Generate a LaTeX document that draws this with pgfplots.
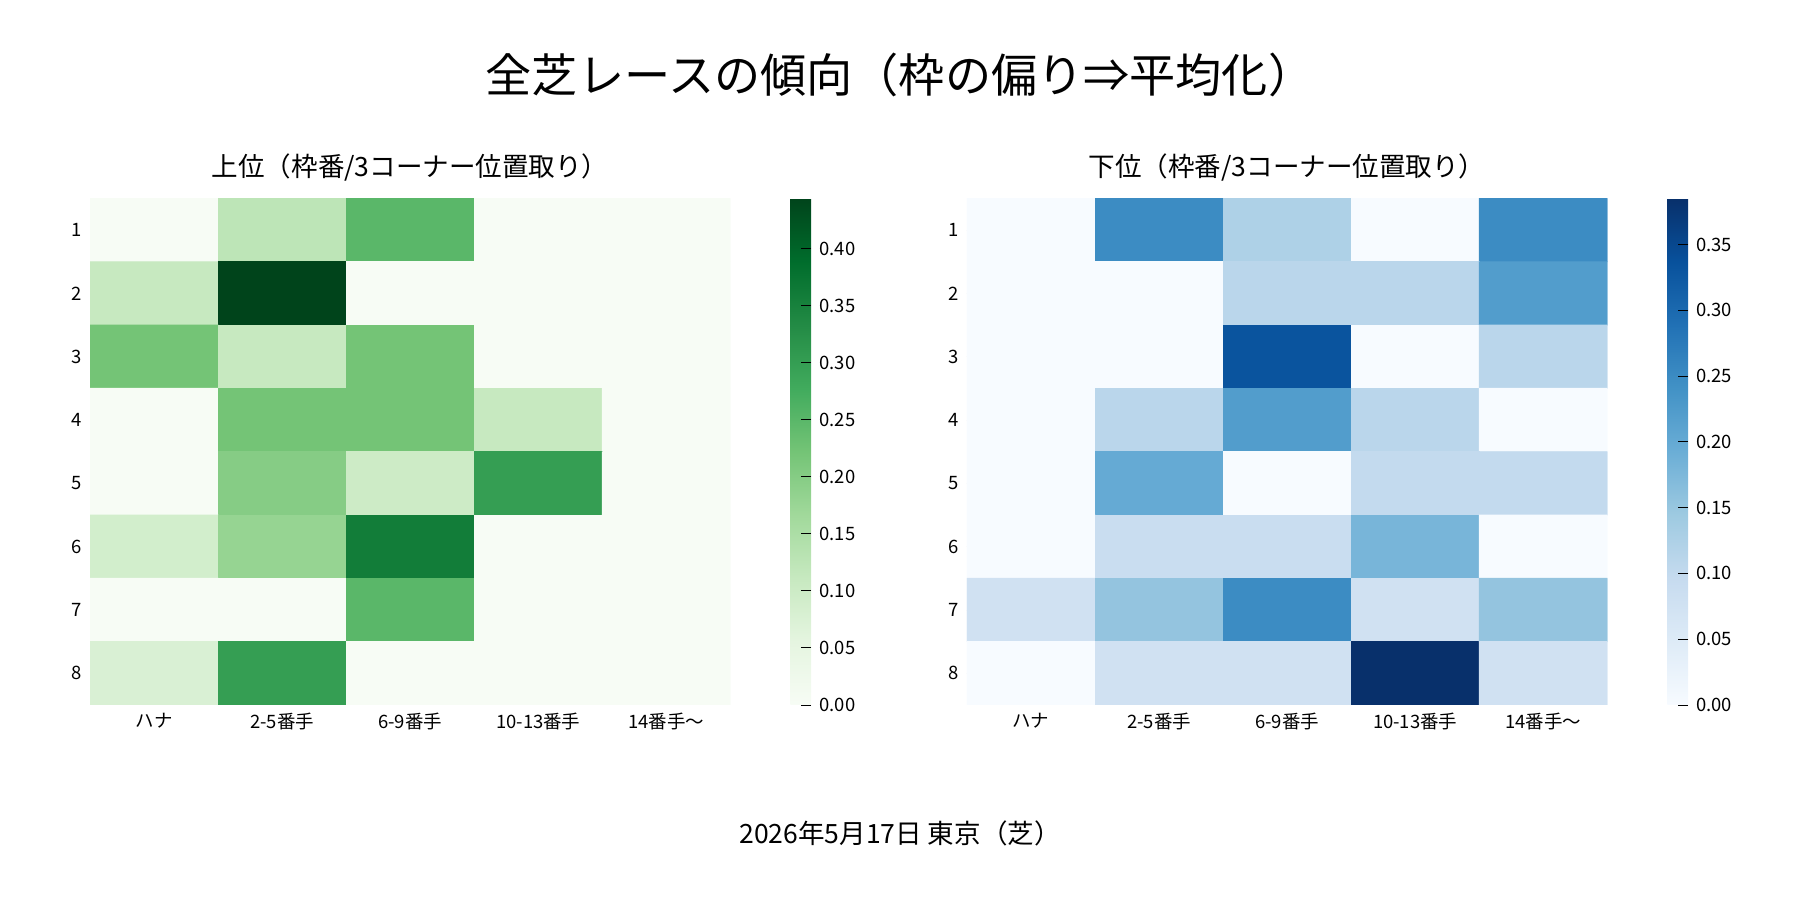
\documentclass[border=0pt]{standalone}
\usepackage{pgfplots}
\pgfplotsset{compat=1.18}
\usepackage{fontspec}
\setmainfont{Noto Sans CJK JP}
\pgfplotsset{
 colormap={greens}{rgb255=(247,252,245) rgb255=(229,245,224) rgb255=(199,233,192) rgb255=(161,217,155) rgb255=(116,196,118) rgb255=(65,171,93) rgb255=(35,139,69) rgb255=(0,109,44) rgb255=(0,68,27)},
 colormap={blues}{rgb255=(247,251,255) rgb255=(222,235,247) rgb255=(198,219,239) rgb255=(158,202,225) rgb255=(107,174,214) rgb255=(66,146,198) rgb255=(33,113,181) rgb255=(8,81,156) rgb255=(8,48,107)},
 hm/.style={scale only axis, width=277.5pt, height=219.5pt, anchor=south west,
  xmin=-0.5,xmax=4.5,ymin=0.5,ymax=8.5, y dir=reverse,
  xtick={0,...,4}, xticklabels={ハナ,2-5番手,6-9番手,10-13番手,14番手〜},
  ytick={1,...,8}, axis line style={draw=none},
  tick style={black,thin}, xtick style={draw=none}, ytick pos=left,
  major tick length=3pt, ticklabel style={font=\fontsize{8}{9}\selectfont},
  /pgf/number format/assume math mode=true,
  title style={font=\fontsize{11.5}{13}\selectfont, yshift=-2pt},
  point meta min=0, colorbar,
  colorbar style={width=9pt, at={(parent axis.north east)}, anchor=north west, xshift=17.5pt,
    axis line style={draw=none}, ytick pos=right,
    yticklabel style={font=\fontsize{8}{9}\selectfont,/pgf/number format/.cd,fixed,fixed zerofill,precision=2},
    /pgf/number format/assume math mode=true, ytick={0,0.05,...,0.45}}
 }
}
\begin{document}
\begin{tikzpicture}
\path[use as bounding box] (0,0) rectangle (780pt,390pt);
\node at (390pt,357.5pt) {\fontsize{20}{24}\selectfont 全芝レースの傾向（枠の偏り⇒平均化）};
\node at (390pt,29pt) {\fontsize{11.5}{13}\selectfont 2026年5月17日 東京（芝）};
\begin{axis}[hm, at={(39pt,84.5pt)}, colormap name=greens, point meta max=0.444,
  title={上位（枠番/3コーナー位置取り）}]
\addplot[matrix plot*, mesh/cols=5, point meta=explicit] table[meta=c]{
x y c
0 1 0
1 1 0.125
2 1 0.25
3 1 0
4 1 0
0 2 0.111
1 2 0.444
2 2 0
3 2 0
4 2 0
0 3 0.222
1 3 0.111
2 3 0.222
3 3 0
4 3 0
0 4 0
1 4 0.222
2 4 0.222
3 4 0.111
4 4 0
0 5 0
1 5 0.2
2 5 0.1
3 5 0.3
4 5 0
0 6 0.09
1 6 0.18
2 6 0.36
3 6 0
4 6 0
0 7 0
1 7 0
2 7 0.25
3 7 0
4 7 0
0 8 0.077
1 8 0.3
2 8 0
3 8 0
4 8 0
};
\end{axis}
\begin{axis}[hm, at={(419pt,84.5pt)}, colormap name=blues, point meta max=0.385,
  title={下位（枠番/3コーナー位置取り）}]
\addplot[matrix plot*, mesh/cols=5, point meta=explicit] table[meta=c]{
x y c
0 1 0
1 1 0.25
2 1 0.125
3 1 0
4 1 0.25
0 2 0
1 2 0
2 2 0.111
3 2 0.111
4 2 0.222
0 3 0
1 3 0
2 3 0.333
3 3 0
4 3 0.111
0 4 0
1 4 0.111
2 4 0.222
3 4 0.111
4 4 0
0 5 0
1 5 0.2
2 5 0
3 5 0.1
4 5 0.1
0 6 0
1 6 0.09
2 6 0.09
3 6 0.18
4 6 0
0 7 0.077
1 7 0.154
2 7 0.25
3 7 0.077
4 7 0.154
0 8 0
1 8 0.077
2 8 0.077
3 8 0.385
4 8 0.077
};
\end{axis}
\end{tikzpicture}
\end{document}
